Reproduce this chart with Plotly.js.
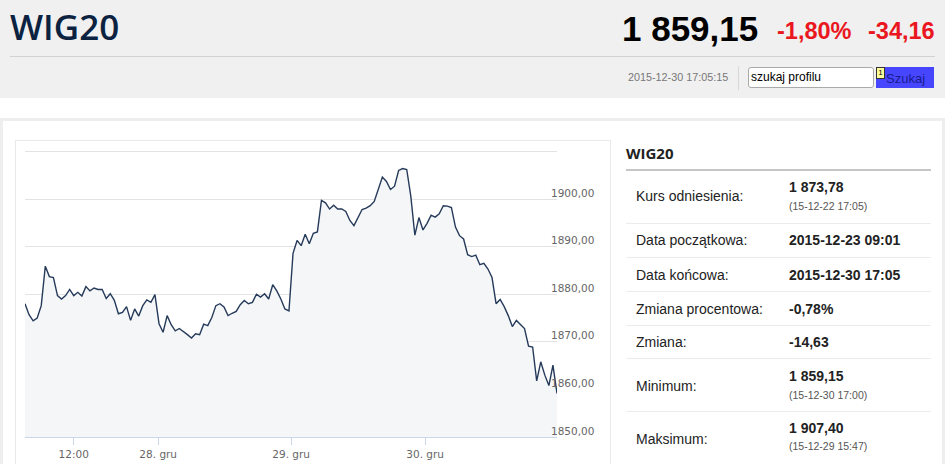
<!DOCTYPE html>
<html>
<head>
<meta charset="utf-8">
<script src="https://cdn.plot.ly/plotly-3.0.1.min.js"></script>
<style>
  html, body { margin:0; padding:0; width:945px; height:464px; overflow:hidden; background:#ffffff; font-family:"Liberation Sans", Arial, sans-serif; }
  .abs { position:absolute; white-space:nowrap; }
  .lbl { font-size:14px; color:#222; line-height:20px; }
  .val { font-size:14px; font-weight:bold; color:#222; line-height:20px; }
  .sub { font-size:10.5px; color:#555; line-height:14px; }
  .sep { position:absolute; left:626px; width:305px; height:1px; background:#ececec; }
</style>
</head>
<body>
<!-- header -->
<div class="abs" style="left:0;top:0;width:945px;height:98px;background:#f0f0f0;"></div>
<div class="abs" style="left:10px;top:9px;font-family:'Open Sans';font-weight:600;font-size:35px;line-height:35px;color:#0b2240;">WIG20</div>
<div class="abs" style="left:622px;top:11px;font-weight:bold;font-size:35px;line-height:35px;color:#000;">1 859,15</div>
<div class="abs" style="left:777px;top:20px;font-weight:bold;font-size:23.5px;line-height:23px;color:#ea1720;">-1,80%</div>
<div class="abs" style="left:868px;top:20px;font-weight:bold;font-size:23.5px;line-height:23px;color:#ea1720;">-34,16</div>
<div class="abs" style="left:10px;top:56px;width:925px;height:1px;background:#d2d2d2;"></div>
<div class="abs" style="left:628px;top:71px;font-size:10.8px;line-height:12px;color:#777;">2015-12-30 17:05:15</div>
<div class="abs" style="left:738px;top:66px;width:1px;height:24px;background:#d8d8d8;"></div>
<div class="abs" style="left:748px;top:67px;width:122px;height:19px;border:1px solid #aaa;border-radius:3px;background:#fff;font-size:12px;line-height:19px;color:#000;padding-left:2px;box-sizing:content-box;">szukaj profilu</div>
<div class="abs" style="left:876px;top:67px;width:58px;height:21px;background:#4646ff;font-size:13px;line-height:23px;color:#1b1b8f;padding-left:10px;box-sizing:border-box;">Szukaj</div>
<div class="abs" style="left:876px;top:67px;width:7px;height:10px;background:#ffff9a;border:1px solid #333;font-size:8px;line-height:10px;text-align:center;color:#000;">1</div>

<!-- content frame -->
<div class="abs" style="left:0;top:118px;width:945px;height:346px;background:#eeeeee;"></div>
<div class="abs" style="left:3px;top:121px;width:939px;height:343px;background:#ffffff;"></div>
<div class="abs" style="left:15px;top:140px;width:594px;height:340px;border:1px solid #e9e9e9;background:#fff;"></div>
<div id="chart" class="abs" style="left:16px;top:141px;width:594px;height:323px;"></div>

<!-- right panel -->
<div class="abs" style="left:626px;top:143px;font-family:'Open Sans';font-weight:700;font-size:15px;line-height:20px;color:#222;">WIG20</div>
<div class="abs" style="left:626px;top:169px;width:305px;height:2px;background:#c6c6c6;"></div>
<div id="rows"></div>

<script>
// ---- data (15-minute samples, 09:00-17:00) ----
var sessionDays = ['2015-12-23', '2015-12-28', '2015-12-29', '2015-12-30'];
var dec23 = [1878.0, 1875.7, 1874.4, 1875.0, 1877.6, 1885.9, 1883.7, 1883.5, 1879.7, 1879.0, 1879.7,
             1881.0, 1879.7, 1880.4, 1879.6, 1881.6, 1880.7, 1881.3, 1881.0, 1881.0, 1879.1, 1880.1,
             1878.7, 1875.9, 1876.2, 1877.4, 1874.5, 1876.9, 1875.4, 1877.6, 1878.8, 1878.3, 1879.9];
var dec28 = [1873.8, 1872.0, 1875.5, 1873.6, 1872.3, 1872.8, 1872.2, 1871.5, 1870.8, 1871.7, 1871.5,
             1873.7, 1873.4, 1875.1, 1877.6, 1878.0, 1877.3, 1875.5, 1876.0, 1876.4, 1877.8, 1878.7,
             1878.0, 1878.3, 1880.0, 1879.4, 1880.1, 1879.0, 1882.0, 1880.7, 1879.0, 1876.9, 1876.5];
var dec29 = [1888.6, 1891.3, 1890.2, 1892.6, 1890.6, 1892.8, 1893.1, 1899.7, 1899.2, 1897.9, 1898.7,
             1897.9, 1897.9, 1897.4, 1895.5, 1894.4, 1896.1, 1897.8, 1898.1, 1898.6, 1899.5, 1902.2,
             1904.6, 1903.7, 1902.0, 1902.7, 1906.0, 1906.4, 1906.2, 1900.6, 1892.4, 1896.1, 1893.5];
var dec30 = [1894.9, 1896.6, 1896.2, 1896.9, 1898.6, 1898.5, 1898.2, 1894.1, 1892.3, 1891.6, 1888.3,
             1887.9, 1888.2, 1886.2, 1886.5, 1885.3, 1883.5, 1878.0, 1878.9, 1877.4, 1875.5, 1873.2,
             1874.5, 1873.7, 1872.8, 1869.1, 1868.9, 1861.8, 1865.8, 1863.0, 1860.8, 1865.1, 1859.15];
var dayValues = [dec23, dec28, dec29, dec30];

var yTickVals = [1850, 1860, 1870, 1880, 1890, 1900, 1910];
var yTickText = ['1850,00', '1860,00', '1870,00', '1880,00', '1890,00', '1900,00', ''];
var xTickVals = ['2015-12-23 12:00', '2015-12-28 08:57', '2015-12-29 08:53', '2015-12-30 08:53'];
var xTickText = ['12:00', '28. gru', '29. gru', '30. gru'];

var statLabels = ['Kurs odniesienia:', 'Data początkowa:', 'Data końcowa:', 'Zmiana procentowa:', 'Zmiana:', 'Minimum:', 'Maksimum:'];
var statValues = ['1 873,78', '2015-12-23 09:01', '2015-12-30 17:05', '-0,78%', '-14,63', '1 859,15', '1 907,40'];
var statNotes  = ['(15-12-22 17:05)', '', '', '', '', '(15-12-30 17:00)', '(15-12-29 15:47)'];

// ---- build time stamps for each session ----
function pad(n){ return (n < 10 ? '0' : '') + n; }
var xs = [], ys = [];
for (var d = 0; d < sessionDays.length; d++) {
  for (var k = 0; k < dayValues[d].length; k++) {
    var mins = 9 * 60 + k * 15;
    xs.push(sessionDays[d] + ' ' + pad(Math.floor(mins / 60)) + ':' + pad(mins % 60));
    ys.push(dayValues[d][k]);
  }
}
// overnight / holiday gaps removed, keeping one sample step between sessions
var breaks = [];
for (var d = 0; d < sessionDays.length - 1; d++) {
  breaks.push({bounds: [sessionDays[d] + ' 17:07:30', sessionDays[d + 1] + ' 08:52:30']});
}

var trace = {
  x: xs, y: ys, type: 'scatter', mode: 'lines',
  line: {color: '#263a5a', width: 1.4},
  fill: 'tozeroy', fillcolor: '#f4f6f8',
  hoverinfo: 'skip'
};
var layout = {
  width: 594, height: 323,
  margin: {l: 9, r: 53, t: 9, b: 27},
  paper_bgcolor: 'rgba(0,0,0,0)', plot_bgcolor: '#ffffff',
  showlegend: false,
  xaxis: {
    type: 'date', rangebreaks: breaks,
    range: [xs[0], xs[xs.length - 1]],
    tickmode: 'array', tickvals: xTickVals, ticktext: xTickText,
    showgrid: false, zeroline: false,
    showline: true, linecolor: '#ccd6eb', linewidth: 1,
    ticks: 'outside', ticklen: 7, tickcolor: '#ccd6eb', tickwidth: 1,
    tickfont: {family: 'DejaVu Sans', size: 10.5, color: '#666666'}
  },
  yaxis: {
    range: [1850, 1910.3], side: 'right',
    tickmode: 'array', tickvals: yTickVals, ticktext: yTickText,
    showgrid: true, gridcolor: '#e3e3e3', gridwidth: 1,
    zeroline: false, showline: false, ticks: '',
    ticklabelstandoff: -7, ticklabelshift: -6,
    tickfont: {family: 'DejaVu Sans', size: 10.5, color: '#666666'}
  }
};
Plotly.newPlot('chart', [trace], layout, {staticPlot: true, displayModeBar: false});

// ---- right statistics table ----
var seps = [223, 257, 291, 325, 358, 411];
var labelCenters = [196, 240, 275, 309, 342, 386, 439];
var valueCenters = [187, 240, 275, 309, 342, 376, 428];
var noteCenters  = [206, 0, 0, 0, 0, 395, 446];
var html = '';
for (var i = 0; i < seps.length; i++) html += '<div class="sep" style="top:' + seps[i] + 'px"></div>';
for (var i = 0; i < statLabels.length; i++) {
  html += '<div class="abs lbl" style="left:636px;top:' + (labelCenters[i] - 10) + 'px">' + statLabels[i] + '</div>';
  html += '<div class="abs val" style="left:789px;top:' + (valueCenters[i] - 10) + 'px">' + statValues[i] + '</div>';
  if (statNotes[i]) html += '<div class="abs sub" style="left:789px;top:' + (noteCenters[i] - 7) + 'px">' + statNotes[i] + '</div>';
}
document.getElementById('rows').innerHTML = html;
</script>
</body>
</html>
